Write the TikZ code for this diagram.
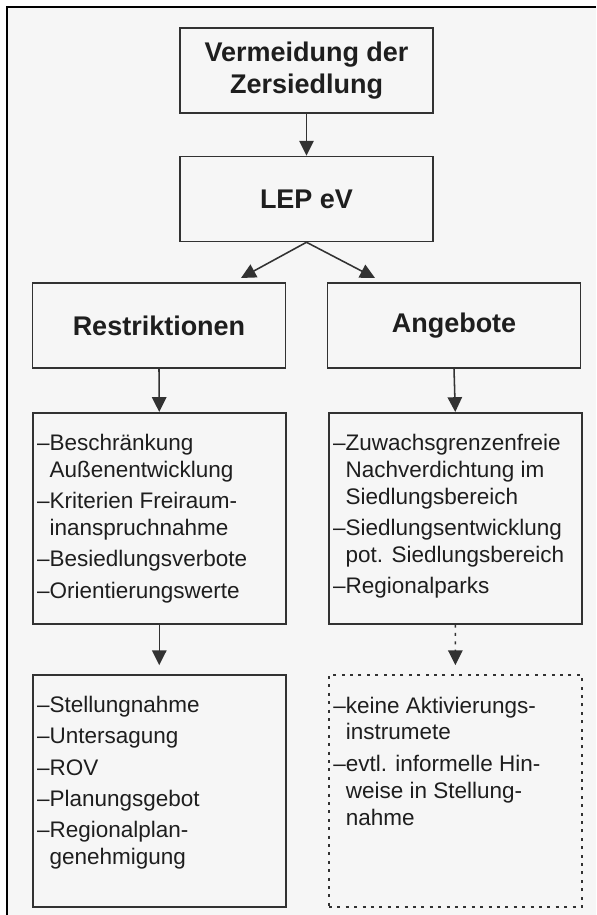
\documentclass[tikz,border=0pt]{standalone}
\usepackage{fontspec}
\setmainfont{Liberation Sans}
\usetikzlibrary{arrows.meta}

\definecolor{linie}{RGB}{50,50,50}
\definecolor{schrift}{RGB}{30,30,30}
\definecolor{papier}{RGB}{246,246,246}

\tikzset{
	titel/.style={draw=linie, line width=1.1pt, minimum width=6.325cm, minimum height=2.125cm, align=center, text=schrift, font=\fontsize{19.2}{22.8}\selectfont\bfseries},
	liste/.style={draw=linie, line width=1.1pt, anchor=north west, inner xsep=0.11cm, inner ysep=0pt, text=schrift, font=\fontsize{16}{19.2}\selectfont},
	gepunktet/.style={dash pattern=on 0.075cm off 0.135cm, line width=1.3pt},
	pfeil/.style={draw=linie, line width=1.1pt, -{Triangle[length=0.37cm,width=0.36cm]}}
}

\begin{document}
\begin{tikzpicture}
		\useasboundingbox (0,0) rectangle (14.9,22.875);
		\fill[white] (0,0) rectangle (14.9,22.875);
		\fill[papier] (0.175,0) rectangle (14.9,22.7);
		\draw [line width=1.8pt] (0.175,0) -- (0.175,22.7) -- (14.9,22.7);

		%Kopf
		\node[titel] (vermeidung) at (7.6625,21.1125) {Vermeidung der\\Zersiedlung};
		\node[titel] (lep) at (7.6625,17.9) {LEP eV};
		\node[titel] (restr) at (3.975,14.7375) {Restriktionen};
		\node[titel] (angebote) at (11.35,14.7375) {Angebote};

		%Listen Mitte
		\node[liste] (restrliste) at (0.8,12.575) {\parbox[c][5.275cm][t]{6.105cm}{\vspace*{0.48cm}%
			\begin{tabular}[t]{@{}l@{}l@{}}
				–&Beschränkung\\
				&Außenentwicklung\\[2.9pt]
				–&Kriterien Freiraum-\\
				&inanspruchnahme\\[2.9pt]
				–&Besiedlungsverbote\\[2.9pt]
				–&Orientierungswerte
			\end{tabular}}};
		\node[liste] (angliste) at (8.2,12.575) {\parbox[c][5.275cm][t]{6.105cm}{\vspace*{0.48cm}%
			\begin{tabular}[t]{@{}l@{}l@{}}
				–&Zuwachsgrenzenfreie\\
				&Nachverdichtung im\\
				&Siedlungsbereich\\[2.9pt]
				–&Siedlungsentwicklung\\
				&pot. Siedlungsbereich\\[2.9pt]
				–&Regionalparks
			\end{tabular}}};

		%Listen unten
		\node[liste] (instr) at (0.8,6.025) {\parbox[c][5.8cm][t]{6.105cm}{\vspace*{0.48cm}%
			\begin{tabular}[t]{@{}l@{}l@{}}
				–&Stellungnahme\\[2.9pt]
				–&Untersagung\\[2.9pt]
				–&ROV\\[2.9pt]
				–&Planungsgebot\\[2.9pt]
				–&Regionalplan-\\
				&genehmigung
			\end{tabular}}};
		\node[liste, gepunktet] (hinweise) at (8.2,6.025) {\parbox[c][5.8cm][t]{6.105cm}{\vspace*{0.48cm}%
			\begin{tabular}[t]{@{}l@{}l@{}}
				–&keine Aktivierungs-\\
				&instrumete\\[2.9pt]
				–&evtl. informelle Hin-\\
				&weise in Stellung-\\
				&nahme
			\end{tabular}}};

		%Pfeile
		\coordinate (spitzeL) at (6.025,15.925);
		\coordinate (spitzeR) at (9.375,15.925);
		\draw [pfeil] (vermeidung.south) -- (lep.north);
		\draw [pfeil] (lep.south) -- (spitzeL);
		\draw [pfeil] (lep.south) -- (spitzeR);
		\draw [pfeil] (restr.south) -- (restrliste.north);
		\draw [pfeil] (angebote.south) -- (angliste.north);
		\draw [pfeil, shorten >=0.22cm] (restrliste.south) -- (instr.north);
		\draw [pfeil, gepunktet, line width=1.1pt, shorten >=0.22cm] (angliste.south) -- (hinweise.north);
\end{tikzpicture}
\end{document}
